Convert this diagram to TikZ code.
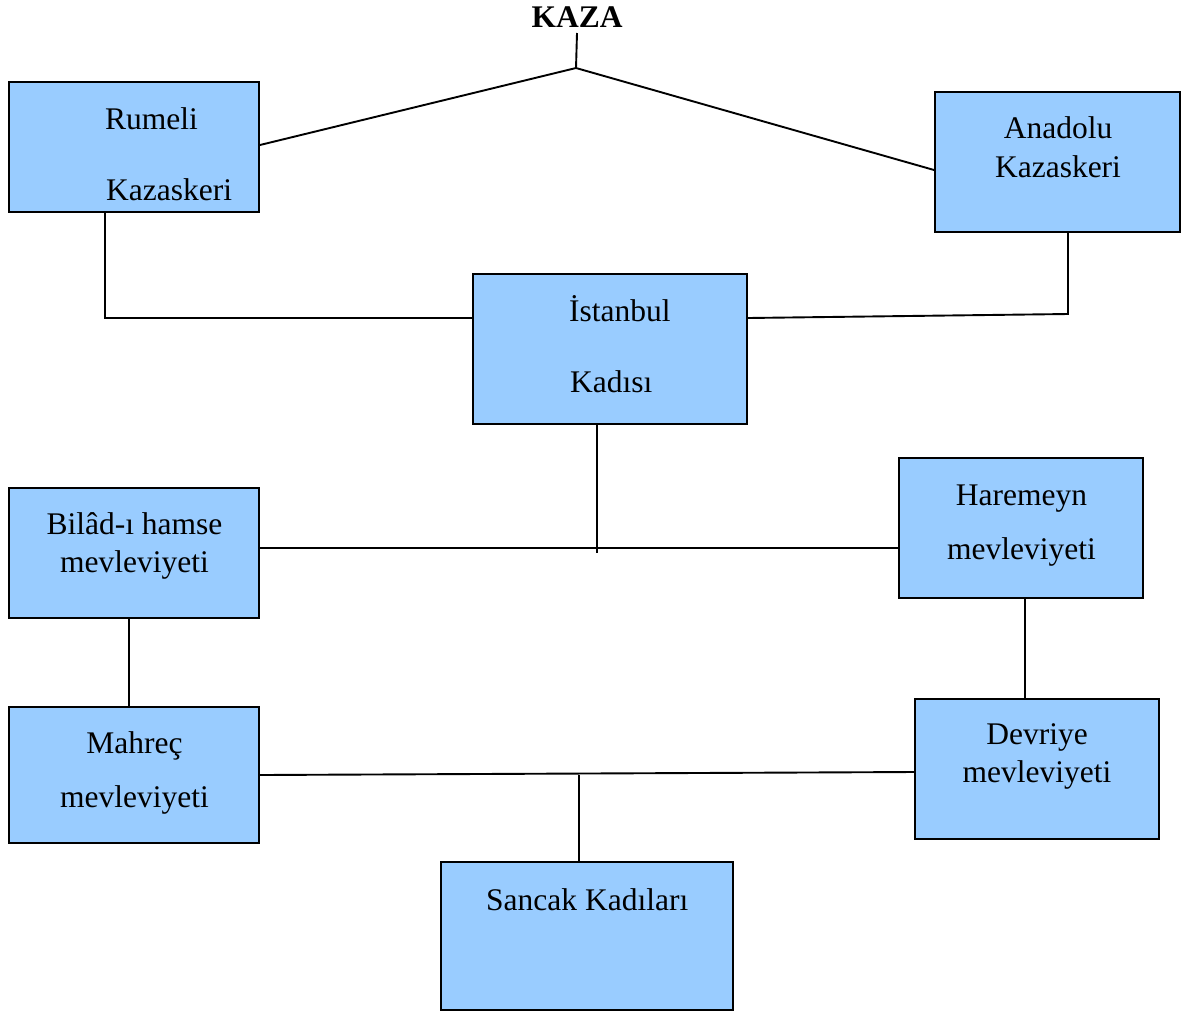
\documentclass[tikz,border=0pt]{standalone}
\usepackage{fontspec}
\setmainfont{Liberation Serif}
\definecolor{boxblue}{HTML}{99CCFF}
\begin{document}
\begin{tikzpicture}[x=1pt,y=-1pt,
  box/.style={draw=black, fill=boxblue, line width=2pt, rectangle, inner sep=0pt},
  txt/.style={inner sep=0pt, font=\fontsize{31.5}{37.8}\selectfont, text=black},
  conn/.style={draw=black, line width=1.9pt}]
\useasboundingbox (0,0) rectangle (1190,1012);
% boxes
\node[box, minimum width=250pt, minimum height=130pt] (rum) at (134,147) {};
\node[box, minimum width=245pt, minimum height=140pt] (ana) at (1057.5,162) {};
\node[box, minimum width=274pt, minimum height=150pt] (ist) at (610,349) {};
\node[box, minimum width=250pt, minimum height=130pt] (bil) at (134,553) {};
\node[box, minimum width=244pt, minimum height=140pt] (har) at (1021,528) {};
\node[box, minimum width=250pt, minimum height=136pt] (mah) at (134,775) {};
\node[box, minimum width=244pt, minimum height=140pt] (dev) at (1037,769) {};
\node[box, minimum width=292pt, minimum height=148pt] (san) at (587,936) {};
% texts
\node[txt, font=\fontsize{31.5}{37.8}\selectfont\bfseries, anchor=base, outer sep=6pt] (kaza) at (577,27) {KAZA};
\node[txt, anchor=base west] (rum1) at (105,129) {Rumeli};
\node[txt, anchor=base west] (rum2) at (106,200) {Kazaskeri};
\node[txt, anchor=base] (ana1) at (1058,138) {Anadolu};
\node[txt, anchor=base] (ana2) at (1058,177) {Kazaskeri};
\node[txt, anchor=base west] (ist1) at (569,321) {İstanbul};
\node[txt, anchor=base west] (ist2) at (570,392) {Kadısı};
\node[txt, anchor=base] (bil1) at (134.5,534) {Bilâd-ı hamse};
\node[txt, anchor=base] (bil2) at (134.5,572) {mevleviyeti};
\node[txt, anchor=base] (har1) at (1021.5,505) {Haremeyn};
\node[txt, anchor=base] (har2) at (1021.5,559) {mevleviyeti};
\node[txt, anchor=base] (mah1) at (134.5,753) {Mahreç};
\node[txt, anchor=base] (mah2) at (134.5,807) {mevleviyeti};
\node[txt, anchor=base] (dev1) at (1037,744) {Devriye};
\node[txt, anchor=base] (dev2) at (1037,782) {mevleviyeti};
\node[txt, anchor=base west] (san1) at (486,910) {Sancak Kadıları};
% junctions
\coordinate (j0) at (576,68);
\coordinate (c2) at (1068,314);
\coordinate (c3) at (597,553);
\coordinate (c4) at (579,775);
% connectors
\draw[conn] (kaza.south) -- (j0);
\draw[conn] (j0) -- ([yshift=2pt]rum.east);
\draw[conn] (j0) -- ([yshift=-8pt]ana.west);
\draw[conn] ([xshift=-29pt]rum.south) |- ([yshift=31pt]ist.west);
\draw[conn] ([xshift=10.5pt]ana.south) -- (c2) -- ([yshift=31pt]ist.east);
\draw[conn] ([xshift=-13pt]ist.south) -- (c3);
\draw[conn] ([yshift=5pt]bil.east) -- ([yshift=-20pt]har.west);
\draw[conn] ([xshift=-5pt]bil.south) -- ([xshift=-5pt]mah.north);
\draw[conn] ([xshift=4pt]har.south) -- ([xshift=-12pt]dev.north);
\draw[conn] (mah.east) -- ([yshift=-3pt]dev.west);
\draw[conn] (c4) -- ([xshift=-8pt]san.north);
\end{tikzpicture}
\end{document}
